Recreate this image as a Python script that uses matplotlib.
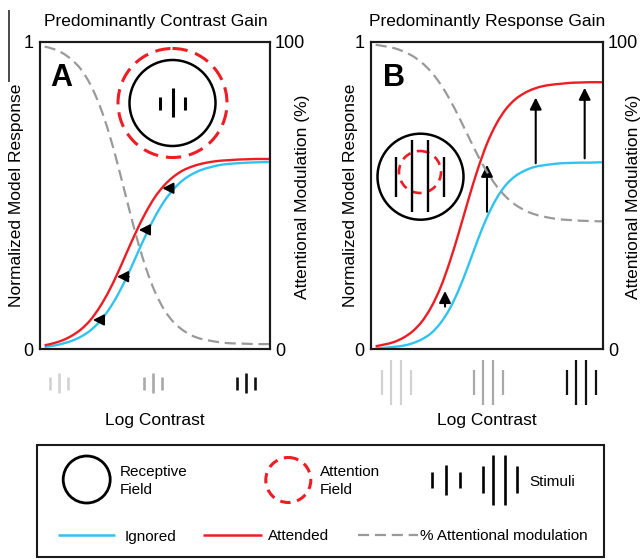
import matplotlib
matplotlib.use('Agg')
import matplotlib.pyplot as plt
from matplotlib.patches import Circle, Rectangle, PathPatch
from matplotlib.path import Path

plt.rcParams['font.family'] = ['Liberation Sans', 'DejaVu Sans']

# ---------------- data ----------------
log_contrast = [0.02, 0.06, 0.10, 0.14, 0.18, 0.22, 0.26, 0.30, 0.34, 0.38, 0.42, 0.46, 0.50,
                0.54, 0.58, 0.62, 0.66, 0.70, 0.74, 0.78, 0.82, 0.86, 0.90, 0.94, 0.98, 1.00]

a_ignored = [0.007, 0.011, 0.018, 0.027, 0.041, 0.061, 0.090, 0.129, 0.179, 0.239, 0.305, 0.371, 0.431,
             0.481, 0.520, 0.549, 0.569, 0.583, 0.592, 0.599, 0.603, 0.605, 0.607, 0.608, 0.609, 0.609]
a_attended = [0.012, 0.019, 0.029, 0.044, 0.065, 0.095, 0.137, 0.189, 0.251, 0.319, 0.385, 0.445, 0.495,
              0.533, 0.561, 0.581, 0.594, 0.603, 0.609, 0.613, 0.615, 0.617, 0.618, 0.619, 0.619, 0.619]
a_modulation = [98.5, 97.7, 96.3, 94.1, 90.9, 86.0, 79.2, 70.3, 59.5, 47.8, 36.4, 26.5, 18.6,
                12.8, 8.8, 6.2, 4.4, 3.3, 2.7, 2.2, 1.9, 1.8, 1.7, 1.6, 1.6, 1.6]

b_ignored = [0.002, 0.004, 0.007, 0.011, 0.019, 0.032, 0.052, 0.085, 0.132, 0.196, 0.273, 0.355, 0.429,
             0.489, 0.533, 0.562, 0.580, 0.592, 0.598, 0.602, 0.605, 0.606, 0.607, 0.607, 0.608, 0.608]
b_attended = [0.009, 0.015, 0.023, 0.037, 0.058, 0.090, 0.137, 0.201, 0.285, 0.383, 0.487, 0.585, 0.669,
              0.733, 0.780, 0.812, 0.833, 0.847, 0.856, 0.861, 0.864, 0.867, 0.868, 0.869, 0.869, 0.869]
b_modulation = [99.1, 98.6, 98.0, 96.9, 95.4, 93.2, 90.2, 86.2, 81.2, 75.4, 69.2, 63.1, 57.7,
                53.2, 49.7, 47.1, 45.3, 44.0, 43.2, 42.6, 42.2, 42.0, 41.8, 41.7, 41.6, 41.6]

# contrast-gain arrows (panel A): horizontal, from ignored to attended curve
a_arrow_y = [0.0945, 0.2355, 0.388, 0.5235]
a_arrow_from_x = [0.277, 0.386, 0.474, 0.578]
a_arrow_to_x = [0.230, 0.335, 0.430, 0.532]

# response-gain arrows (panel B): vertical
b_arrow_x = [0.319, 0.500, 0.710, 0.921]
b_arrow_from_y = [0.138, 0.447, 0.605, 0.621]
b_arrow_to_y = [0.189, 0.600, 0.819, 0.851]

titles = ['Predominantly Contrast Gain', 'Predominantly Response Gain']
panel_letters = ['A', 'B']
left_ticks = [0, 1]
left_tick_labels = ['0', '1']
right_ticks = [0, 100]
right_tick_labels = ['0', '100']
stim_grays = ['#d2d2d2', '#a9a9a9', '#111111']

CYAN = '#31c3f0'
RED = '#ee1d24'
GRAY = '#9a9a9a'
DARK = '#1a1a1a'

W, H = 643, 560
fig = plt.figure(figsize=(W / 100, H / 100), dpi=100)


def rect_px(l, t, r, b):
    return [l / W, 1 - b / H, (r - l) / W, (b - t) / H]


def ftext(x, y, s, **kw):
    fig.text(x / W, 1 - y / H, s, **kw)


def smooth_path(xs, ys):
    """Catmull-Rom curve through the data points, as cubic Bezier path."""
    pts = list(zip(xs, ys))
    n = len(pts)
    verts = [pts[0]]
    codes = [Path.MOVETO]
    for i in range(n - 1):
        p0 = pts[max(i - 1, 0)]
        p1 = pts[i]
        p2 = pts[i + 1]
        p3 = pts[min(i + 2, n - 1)]
        c1 = (p1[0] + (p2[0] - p0[0]) / 6, p1[1] + (p2[1] - p0[1]) / 6)
        c2 = (p2[0] - (p3[0] - p1[0]) / 6, p2[1] - (p3[1] - p1[1]) / 6)
        verts += [c1, c2, p2]
        codes += [Path.CURVE4] * 3
    return Path(verts, codes)


def curve(ax, xs, ys, **kw):
    ax.add_patch(PathPatch(smooth_path(xs, ys), fill=False, **kw))


def make_panel(rect, ign, att, mod):
    ax = fig.add_axes(rect)
    curve(ax, log_contrast, ign, ec=CYAN, lw=1.7, zorder=3)
    curve(ax, log_contrast, att, ec=RED, lw=1.7, zorder=3)
    ax.set_xlim(0, 1)
    ax.set_ylim(0, 1)
    ax.set_xticks([])
    ax.set_yticks(left_ticks)
    ax.set_yticklabels(left_tick_labels, fontsize=13)
    ax.tick_params(axis='y', length=0, pad=4.5)
    for s in ax.spines.values():
        s.set_linewidth(1.5)
        s.set_color(DARK)
    ax2 = ax.twinx()
    curve(ax2, log_contrast, mod, ec=GRAY, lw=1.6, linestyle=(0, (5, 2.6)))
    ax2.set_ylim(0, 100)
    ax2.set_xlim(0, 1)
    ax2.set_yticks(right_ticks)
    ax2.set_yticklabels(right_tick_labels, fontsize=13)
    ax2.tick_params(axis='y', length=0, pad=3.5)
    for s in ax2.spines.values():
        s.set_linewidth(1.5)
        s.set_color(DARK)
    return ax


axA = make_panel(rect_px(40, 42, 270, 349), a_ignored, a_attended, a_modulation)
axB = make_panel(rect_px(371, 42, 603, 349), b_ignored, b_attended, b_modulation)

for y, x0, x1 in zip(a_arrow_y, a_arrow_from_x, a_arrow_to_x):
    axA.annotate('', xy=(x1, y), xytext=(x0, y),
                 arrowprops=dict(arrowstyle='-|>,head_length=0.65,head_width=0.33',
                                 color='black', lw=1.4, shrinkA=0, shrinkB=0,
                                 mutation_scale=10))
for x, y0, y1 in zip(b_arrow_x, b_arrow_from_y, b_arrow_to_y):
    axB.annotate('', xy=(x, y1), xytext=(x, y0),
                 arrowprops=dict(arrowstyle='-|>,head_length=0.7,head_width=0.35',
                                 color='black', lw=1.5, shrinkA=0, shrinkB=0,
                                 mutation_scale=10))

# ---------------- text ----------------
fs_lab = 12.5
ftext(155.5, 26, titles[0], ha='center', va='baseline', fontsize=fs_lab)
ftext(487.5, 26, titles[1], ha='center', va='baseline', fontsize=fs_lab)
ftext(154.5, 425, 'Log Contrast', ha='center', va='baseline', fontsize=fs_lab)
ftext(487, 425, 'Log Contrast', ha='center', va='baseline', fontsize=fs_lab)
ftext(17, 195, 'Normalized Model Response', rotation=90, ha='center', va='center', fontsize=fs_lab)
ftext(351, 195, 'Normalized Model Response', rotation=90, ha='center', va='center', fontsize=fs_lab)
ftext(302.5, 197, 'Attentional Modulation (%)', rotation=90, ha='center', va='center', fontsize=fs_lab)
ftext(633.5, 197, 'Attentional Modulation (%)', rotation=90, ha='center', va='center', fontsize=fs_lab)
ftext(50, 86.5, panel_letters[0], ha='left', va='baseline', fontsize=22, fontweight='bold')
ftext(383, 85.5, panel_letters[1], ha='left', va='baseline', fontsize=22, fontweight='bold')

# ---------------- schematic overlay (pixel coordinates) ----------------
ov = fig.add_axes([0, 0, 1, 1], zorder=10)
ov.set_xlim(0, W)
ov.set_ylim(H, 0)
ov.axis('off')


def bar(x, y0, y1, color='black', lw=2.0):
    ov.plot([x, x], [y0, y1], color=color, lw=lw, solid_capstyle='butt')


# stray edge line at top-left
bar(9, 10, 82, color=DARK, lw=1.1)

# panel A icon: receptive field with attention field around it
ov.add_patch(Circle((172.5, 103), 43, fill=False, ec='black', lw=1.8))
ov.add_patch(Circle((172.5, 103), 54.5, fill=False, ec=RED, lw=2.2, linestyle=(0, (5.0, 2.6))))
bar(160, 96.7, 110, lw=2.2)
bar(173.3, 88.3, 116.7, lw=2.2)
bar(185, 96.7, 110, lw=2.2)

# panel B icon: small attention field inside receptive field, large stimulus
ov.add_patch(Circle((420.5, 176.7), 43, fill=False, ec='black', lw=1.8))
ov.add_patch(Circle((420, 172), 21, fill=False, ec=RED, lw=1.9, linestyle=(0, (3.6, 2.5))))
bar(396, 156.7, 196.7, lw=1.7)
bar(411.7, 140, 212, lw=1.7)
bar(428.3, 140, 212, lw=1.7)
bar(443.7, 156.7, 196.7, lw=1.7)

# stimuli below x axes
for cx, g in zip([59, 153, 246], stim_grays):
    bar(cx - 9.3, 376.7, 390, color=g, lw=1.9)
    bar(cx, 373.3, 393.3, color=g, lw=1.9)
    bar(cx + 9.3, 376.7, 390, color=g, lw=1.9)
for cx, g in zip([396.2, 488.3, 581.3], stim_grays):
    bar(cx - 14.5, 370, 395, color=g, lw=1.6)
    bar(cx - 5, 360, 405, color=g, lw=1.6)
    bar(cx + 5, 360, 405, color=g, lw=1.6)
    bar(cx + 14.5, 370, 395, color=g, lw=1.6)

# ---------------- legend box ----------------
fs_leg = 11
ov.add_patch(Rectangle((37, 445), 567, 112, fill=False, ec=DARK, lw=1.5))
ov.add_patch(Circle((86.7, 479.5), 23.5, fill=False, ec='black', lw=2.0))
ov.text(120, 476, 'Receptive', ha='left', va='baseline', fontsize=fs_leg)
ov.text(120, 493.5, 'Field', ha='left', va='baseline', fontsize=fs_leg)
ov.add_patch(Circle((288.3, 480), 22.5, fill=False, ec=RED, lw=2.2, linestyle=(0, (3.4, 2.2))))
ov.text(320, 476, 'Attention', ha='left', va='baseline', fontsize=fs_leg)
ov.text(320, 493.5, 'Field', ha='left', va='baseline', fontsize=fs_leg)
bar(431.7, 471.7, 488.3, lw=1.9)
bar(445.7, 465, 495, lw=1.9)
bar(460, 471.7, 488.3, lw=1.9)
bar(482.7, 466, 493.3, lw=1.9)
bar(493.3, 455, 505, lw=1.9)
bar(505, 455, 505, lw=1.9)
bar(516.7, 466, 493.3, lw=1.9)
ov.text(529.3, 486, 'Stimuli', ha='left', va='baseline', fontsize=fs_leg)

ov.plot([58, 115], [535, 535], color=CYAN, lw=1.8, solid_capstyle='butt')
ov.text(125, 540.5, 'Ignored', ha='left', va='baseline', fontsize=fs_leg)
ov.plot([203, 262], [535, 535], color=RED, lw=1.8, solid_capstyle='butt')
ov.text(268.3, 540.5, 'Attended', ha='left', va='baseline', fontsize=fs_leg)
ov.plot([358, 418], [535, 535], color=GRAY, lw=1.6, dashes=(5, 2.6))
ov.text(420, 540.5, '% Attentional modulation', ha='left', va='baseline', fontsize=fs_leg)

fig.savefig('out.png', dpi=100)
